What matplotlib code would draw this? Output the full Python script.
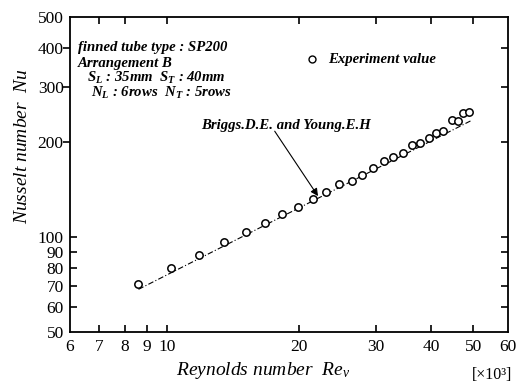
import matplotlib
matplotlib.use("Agg")
import matplotlib.pyplot as plt
import matplotlib.lines as mlines
from matplotlib.ticker import NullLocator, FixedLocator, FixedFormatter

# -----------------------------
# Data
# -----------------------------
RE_EXP = [8.56, 10.2, 11.8, 13.5, 15.1, 16.7, 18.3, 19.9, 21.5, 23.0,
          24.7, 26.4, 27.9, 29.5, 31.2, 32.8, 34.5, 36.2, 37.8, 39.6,
          41.2, 42.7, 44.6, 46.2, 47.4, 49.0]
NU_EXP = [71.2, 80.0, 88.1, 96.2, 103.8, 111.0, 118.2, 125.0, 131.9, 138.8,
          147.2, 151.1, 157.5, 165.5, 174.9, 179.3, 185.5, 196.2, 199.5, 206.9,
          213.7, 217.8, 235.5, 234.3, 247.4, 250.3]

# Briggs & Young correlation (straight line on log-log axes)
RE_BRIGGS = [8.6, 49.3]
NU_BRIGGS = [68.3, 234.0]

X_TICKS = [6, 7, 8, 9, 10, 20, 30, 40, 50, 60]
X_LABELS = ["6", "7", "8", "9", "10", "20", "30", "40", "50", "60"]
Y_TICKS = [50, 60, 70, 80, 90, 100, 200, 300, 400, 500]
Y_LABELS = ["50", "60", "70", "80", "90", "100", "200", "300", "400", "500"]

# -----------------------------
# Style
# -----------------------------
plt.rcParams["font.family"] = ["Liberation Serif", "DejaVu Serif"]
plt.rcParams["mathtext.fontset"] = "custom"
plt.rcParams["mathtext.rm"] = "Liberation Serif"
plt.rcParams["mathtext.it"] = "Liberation Serif:italic"
plt.rcParams["mathtext.bf"] = "Liberation Serif:bold:italic"

fig = plt.figure(figsize=(5.23, 3.85), dpi=100)
ax = fig.add_axes([70 / 523, 1 - 332 / 385, 438 / 523, 315 / 385])

ax.set_xscale("log")
ax.set_yscale("log")
ax.set_xlim(6, 60)
ax.set_ylim(50, 500)

ax.plot(RE_BRIGGS, NU_BRIGGS, color="black", lw=0.8, dashes=(5, 2, 1, 2))
ax.plot(RE_EXP, NU_EXP, ls="none", marker="o", ms=5.3, mfc="white",
        mec="black", mew=1.1)

for s in ax.spines.values():
    s.set_linewidth(1.3)

ax.xaxis.set_major_locator(FixedLocator(X_TICKS))
ax.xaxis.set_major_formatter(FixedFormatter(X_LABELS))
ax.yaxis.set_major_locator(FixedLocator(Y_TICKS))
ax.yaxis.set_major_formatter(FixedFormatter(Y_LABELS))
ax.xaxis.set_minor_locator(NullLocator())
ax.yaxis.set_minor_locator(NullLocator())

ax.tick_params(direction="in", length=5, width=1.2, labelsize=12.5,
               top=True, right=True, color="black")
ax.tick_params(axis="y", pad=4.5)
ax.tick_params(axis="x", pad=5)

# corner ticks hidden, a few ticks drawn outward on the left
for val, tick in zip(X_TICKS, ax.xaxis.get_major_ticks()):
    if val in (6, 60):
        tick.tick1line.set_visible(False)
        tick.tick2line.set_visible(False)
    if val == 9:
        tick.tick2line.set_visible(False)
for val, tick in zip(Y_TICKS, ax.yaxis.get_major_ticks()):
    if val in (50, 500):
        tick.tick1line.set_visible(False)
        tick.tick2line.set_visible(False)
    if val in (200, 300, 400):
        tick.tick1line.set_marker(mlines.TICKLEFT)

ax.set_xlabel(r"Reynolds number  $Re_v$", fontsize=14, style="italic")
ax.xaxis.set_label_coords(0.44, -0.088, transform=ax.transAxes)
ax.xaxis.label.set_va("top")
ax.set_ylabel(r"Nusselt number  $Nu$", fontsize=14, style="italic")
ax.yaxis.set_label_coords(-0.09, 0.59, transform=ax.transAxes)
ax.text(0.963, -0.162, "[×10³]", transform=ax.transAxes, fontsize=11.5,
        ha="center", va="bottom")

# annotations
ann = dict(fontsize=10.6, style="italic", weight="bold",
           transform=ax.transAxes, va="center")
ax.text(0.018, 0.902, "finned tube type : SP200", **ann)
ax.text(0.018, 0.851, "Arrangement B", **ann)
ax.text(0.039, 0.805,
        r"$\mathbf{S}_{\mathbf{L}}$ : 35mm  $\mathbf{S}_{\mathbf{T}}$ : 40mm",
        **ann)
ax.text(0.048, 0.759,
        r"$\mathbf{N}_{\mathbf{L}}$ : 6rows  $\mathbf{N}_{\mathbf{T}}$ : 5rows",
        **ann)

ax.plot([0.552], [0.866], transform=ax.transAxes, ls="none", marker="o",
        ms=5, mfc="white", mec="black", mew=1.0, clip_on=False)
ax.text(0.589, 0.866, "Experiment value", **ann)

ax.text(0.300, 0.657, "Briggs.D.E. and Young.E.H", **ann)
ax.annotate("", xy=(22.1, 135), xytext=(17.6, 217),
            arrowprops=dict(arrowstyle="-|>", lw=0.8, color="black",
                            mutation_scale=11, shrinkA=0, shrinkB=0))

fig.savefig("out.png", dpi=100)
